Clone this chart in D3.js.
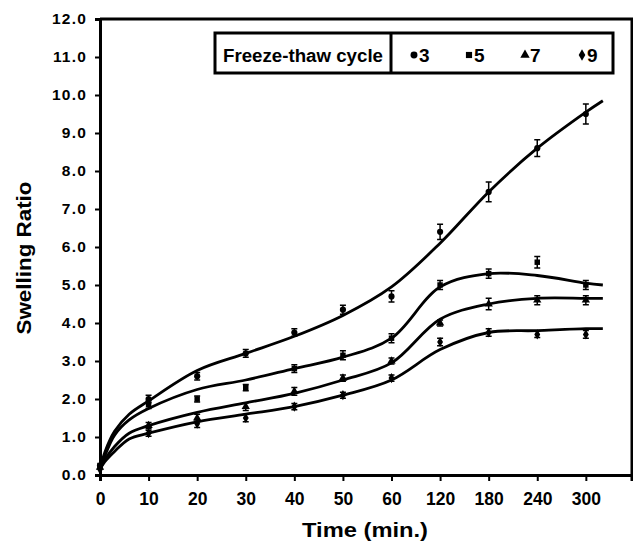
<!DOCTYPE html>
<html>
<head>
<meta charset="utf-8">
<script src="https://cdn.jsdelivr.net/npm/d3@7"></script>
<style>
  body { margin: 0; background: #fff; }
  svg { font-family: "Liberation Sans", Arial, sans-serif; font-weight: bold; }
</style>
</head>
<body>
<script>
// category labels on the time axis (drawn evenly spaced)
const timeLabels = ["0", "10", "20", "30", "40", "50", "60", "120", "180", "240", "300"];
const cycles = ["3", "5", "7", "9"];

// measured points (swelling ratio) per freeze-thaw cycle
const ratio3 = [0.25, 2.0, 2.6, 3.2, 3.75, 4.35, 4.7, 6.4, 7.45, 8.6, 9.5];
const ratio5 = [0.25, 1.85, 2.0, 2.3, 2.8, 3.15, 3.6, 5.0, 5.3, 5.6, 5.0];
const ratio7 = [0.2, 1.3, 1.5, 1.8, 2.2, 2.55, 3.0, 4.0, 4.5, 4.6, 4.6];
const ratio9 = [0.15, 1.1, 1.35, 1.5, 1.8, 2.1, 2.55, 3.5, 3.75, 3.7, 3.7];

// error bars (+/-)
const err3 = [0, 0.1, 0.1, 0.1, 0.1, 0.12, 0.15, 0.2, 0.26, 0.22, 0.26];
const err5 = [0, 0.1, 0.08, 0.08, 0.1, 0.12, 0.12, 0.12, 0.12, 0.15, 0.12];
const err7 = [0, 0.08, 0.1, 0.1, 0.1, 0.08, 0.08, 0.08, 0.15, 0.12, 0.12];
const err9 = [0, 0.08, 0.1, 0.1, 0.08, 0.08, 0.08, 0.1, 0.1, 0.08, 0.1];

// fitted trend lines, sampled at category positions
const fitIdx = [0, 0.1, 0.3, 0.6, 1, 2, 3, 4, 5, 6, 7, 8, 9, 10, 10.35];
const fit3 = [0.15, 0.6, 1.15, 1.6, 1.95, 2.75, 3.2, 3.65, 4.2, 4.95, 6.1, 7.45, 8.6, 9.55, 9.85];
const fit5 = [0.15, 0.5, 1.05, 1.45, 1.75, 2.25, 2.5, 2.8, 3.1, 3.6, 4.95, 5.3, 5.25, 5.05, 5.0];
const fit7 = [0.15, 0.4, 0.75, 1.1, 1.3, 1.65, 1.9, 2.15, 2.5, 2.95, 4.1, 4.5, 4.65, 4.65, 4.65];
const fit9 = [0.15, 0.35, 0.62, 0.95, 1.1, 1.4, 1.6, 1.8, 2.1, 2.5, 3.3, 3.75, 3.8, 3.85, 3.85];

const series = [
  {name: "3", pts: ratio3, err: err3, fit: fit3, sym: d3.symbolCircle},
  {name: "5", pts: ratio5, err: err5, fit: fit5, sym: d3.symbolSquare},
  {name: "7", pts: ratio7, err: err7, fit: fit7, sym: d3.symbolTriangle},
  {name: "9", pts: ratio9, err: err9, fit: fit9, sym: d3.symbolDiamond}
];

let width = 633, height = 543;
let svg = d3.select("body").append("svg")
    .attr("width", width)
    .attr("height", height);

let x = d3.scaleLinear().domain([0, 10.95]).range([100, 632]);
let y = d3.scaleLinear().domain([0, 12]).range([475, 19]);

// frame (top and right)
svg.append("path")
   .attr("d", "M" + x(0) + "," + y(12) + "H" + x(10.95) + "V" + (y(0) + 6))
   .attr("fill", "none")
   .attr("stroke", "#000")
   .attr("stroke-width", 3);

// y axis
let yAxis = svg.append("g")
   .attr("transform", "translate(" + x(0) + ",0)")
   .call(d3.axisLeft(y).tickValues(d3.range(0, 13)).tickFormat(d3.format(".1f"))
        .tickSize(5).tickPadding(8));
yAxis.selectAll("text").attr("font-size", 15.5).attr("letter-spacing", 1.2)
   .attr("font-family", "inherit").attr("font-weight", "bold").attr("fill", "#000");

// x axis
let xAxis = svg.append("g")
   .attr("transform", "translate(0," + y(0) + ")")
   .call(d3.axisBottom(x).tickValues(d3.range(0, 11)).tickFormat(i => timeLabels[i])
        .tickSize(6).tickPadding(12));
xAxis.selectAll("text").attr("font-size", 17.5)
   .attr("font-family", "inherit").attr("font-weight", "bold").attr("fill", "#000");

[yAxis, xAxis].forEach(function(g) {
  g.select(".domain").attr("stroke-width", 3);
  g.selectAll(".tick line").attr("stroke-width", 2);
});

// axis titles
svg.append("text")
   .attr("transform", "translate(31,258) rotate(-90)")
   .attr("text-anchor", "middle")
   .attr("font-size", 20)
   .attr("textLength", 153)
   .attr("lengthAdjust", "spacingAndGlyphs")
   .text("Swelling Ratio");

svg.append("text")
   .attr("x", 302)
   .attr("y", 537)
   .attr("font-size", 21)
   .attr("textLength", 126)
   .attr("lengthAdjust", "spacingAndGlyphs")
   .text("Time (min.)");

// fitted lines
let line = d3.line()
   .x(function(d) { return x(d[0]); })
   .y(function(d) { return y(d[1]); })
   .curve(d3.curveCatmullRom.alpha(0.5));

series.forEach(function(s) {
  svg.append("path")
     .datum(fitIdx.map(function(t, i) { return [t, s.fit[i]]; }))
     .attr("fill", "none")
     .attr("stroke", "#000")
     .attr("stroke-width", 2.8)
     .attr("d", line);
});

// error bars and markers
series.forEach(function(s) {
  let g = svg.append("g");
  let d = s.pts.map(function(v, i) { return {i: i, v: v, e: s.err[i]}; });
  g.selectAll(".err").data(d.filter(function(p) { return p.e > 0; }))
     .enter().append("path")
     .attr("fill", "none")
     .attr("stroke", "#000")
     .attr("stroke-width", 1.5)
     .attr("d", function(p) {
       let cx = x(p.i), y0 = y(p.v - p.e), y1 = y(p.v + p.e);
       return "M" + (cx - 3) + "," + y1 + "H" + (cx + 3) +
              "M" + cx + "," + y1 + "V" + y0 +
              "M" + (cx - 3) + "," + y0 + "H" + (cx + 3);
     });
  g.selectAll(".pt").data(d)
     .enter().append("path")
     .attr("transform", function(p) { return "translate(" + x(p.i) + "," + y(p.v) + ")"; })
     .attr("d", d3.symbol().type(s.sym).size(30))
     .attr("fill", "#000");
});

// legend
let lg = svg.append("g");
lg.append("rect")
  .attr("x", 215).attr("y", 33).attr("width", 398).attr("height", 40)
  .attr("fill", "#fff").attr("stroke", "#000").attr("stroke-width", 3);
lg.append("line")
  .attr("x1", 391).attr("x2", 391).attr("y1", 33).attr("y2", 73)
  .attr("stroke", "#000").attr("stroke-width", 3);
lg.append("text")
  .attr("x", 223).attr("y", 62)
  .attr("font-size", 18)
  .attr("textLength", 160)
  .attr("lengthAdjust", "spacingAndGlyphs")
  .text("Freeze-thaw cycle");

let legendX = [414, 469, 525, 582];
series.forEach(function(s, k) {
  lg.append("path")
    .attr("transform", "translate(" + legendX[k] + ",55)")
    .attr("d", d3.symbol().type(s.sym).size(38))
    .attr("fill", "#000");
  lg.append("text")
    .attr("x", legendX[k] + 5).attr("y", 62)
    .attr("font-size", 19)
    .text(cycles[k]);
});
</script>
</body>
</html>
